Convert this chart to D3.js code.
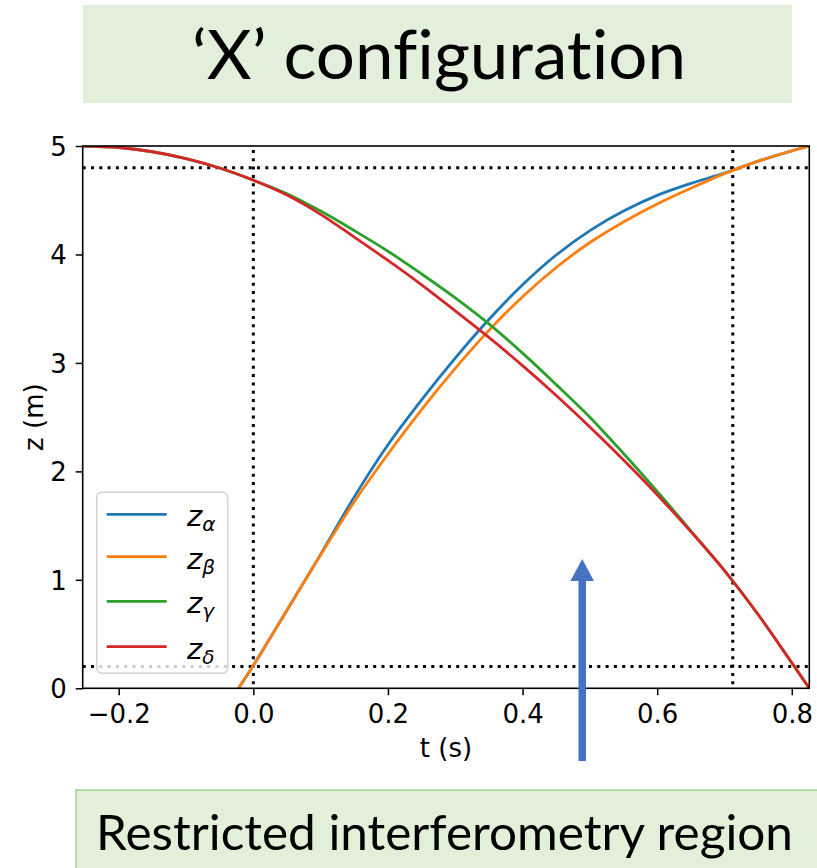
<!DOCTYPE html>
<html>
<head>
<meta charset="utf-8">
<script src="https://cdn.jsdelivr.net/npm/d3@7"></script>
<style>
  html, body { margin: 0; padding: 0; background: #ffffff; }
  svg { display: block; }
  .nolig { font-variant-ligatures: none; font-feature-settings: "liga" 0, "clig" 0; }
</style>
</head>
<body>
<svg id="chart" width="817" height="868"></svg>
<script>
// ---------------- data ----------------
const titleText = "\u2018X\u2019 configuration";
const bottomText = "Restricted interferometry region";
const xLabel = "t (s)";
const yLabel = "z (m)";
const xTicks = [-0.2, 0.0, 0.2, 0.4, 0.6, 0.8];
const yTicks = [0, 1, 2, 3, 4, 5];
const xDomain = [-0.2535, 0.826];
const yDomain = [0, 5];
const hLines = [4.8, 0.2];
const vLines = [0.0, 0.7123];

const seriesNames = ["\u03b1", "\u03b2", "\u03b3", "\u03b4"];
const seriesColors = ["#1f77b4", "#ff7f0e", "#2ca02c", "#d62728"];

// rising pair (alpha, beta)
const tRise = [-0.022, 0.0, 0.05, 0.1, 0.15, 0.2, 0.25, 0.3, 0.35, 0.4, 0.45, 0.5, 0.55, 0.6, 0.65, 0.7, 0.75, 0.8, 0.826];
const zAlpha = [0.0, 0.21, 0.72, 1.235, 1.765, 2.245, 2.66, 3.045, 3.40, 3.72, 3.995, 4.22, 4.40, 4.545, 4.655, 4.75, 4.86, 4.955, 5.0];
const zBeta  = [0.0, 0.21, 0.72, 1.23, 1.72, 2.16, 2.57, 2.95, 3.30, 3.61, 3.88, 4.11, 4.30, 4.465, 4.61, 4.745, 4.86, 4.955, 5.0];

// falling pair (gamma, delta)
const tFall = [-0.2535, -0.2, -0.15, -0.1, -0.05, 0.0, 0.05, 0.1, 0.15, 0.2, 0.25, 0.3, 0.35, 0.4, 0.45, 0.5, 0.55, 0.6, 0.65, 0.7, 0.75, 0.8, 0.826];
const zGamma = [5.0, 4.986, 4.947, 4.884, 4.797, 4.685, 4.56, 4.40, 4.22, 4.03, 3.82, 3.60, 3.36, 3.09, 2.80, 2.50, 2.165, 1.815, 1.452, 1.085, 0.68, 0.235, 0.0];
const zDelta = [5.0, 4.986, 4.947, 4.884, 4.797, 4.685, 4.548, 4.37, 4.16, 3.945, 3.72, 3.48, 3.235, 2.975, 2.70, 2.41, 2.105, 1.785, 1.445, 1.085, 0.68, 0.235, 0.0];

// ---------------- drawing ----------------
const svg = d3.select("#chart");
const font = "'DejaVu Sans', sans-serif";

// title box
svg.append("rect").attr("x", 83).attr("y", 5).attr("width", 709).attr("height", 98)
  .attr("fill", "#e2efda");
svg.append("text").attr("class", "nolig").attr("x", 439).attr("y", 79).attr("text-anchor", "middle")
  .attr("font-family", "Lato, 'Open Sans', sans-serif").attr("font-size", 68)
  .attr("textLength", 494).attr("lengthAdjust", "spacingAndGlyphs")
  .attr("fill", "#000").text(titleText);

const plot = { left: 82.7, right: 809.3, top: 146, bottom: 688.3 };
const x = d3.scaleLinear().domain(xDomain).range([plot.left, plot.right]);
const y = d3.scaleLinear().domain(yDomain).range([plot.bottom, plot.top]);

svg.append("defs").append("clipPath").attr("id", "clip")
  .append("rect").attr("x", plot.left).attr("y", plot.top)
  .attr("width", plot.right - plot.left).attr("height", plot.bottom - plot.top);

const g = svg.append("g");
const clipped = g.append("g").attr("clip-path", "url(#clip)");

// dotted reference lines
const dotted = { stroke: "#000", width: 3, dash: "3,5.3" };
hLines.forEach(v => {
  clipped.append("line").attr("x1", plot.left).attr("x2", plot.right)
    .attr("y1", y(v)).attr("y2", y(v))
    .attr("stroke", dotted.stroke).attr("stroke-width", dotted.width)
    .attr("stroke-dasharray", dotted.dash);
});
vLines.forEach(v => {
  clipped.append("line").attr("x1", x(v)).attr("x2", x(v))
    .attr("y1", plot.top + 4).attr("y2", plot.bottom)
    .attr("stroke", dotted.stroke).attr("stroke-width", dotted.width)
    .attr("stroke-dasharray", dotted.dash);
});

// curves
const series = [
  { t: tRise, z: zAlpha },
  { t: tRise, z: zBeta },
  { t: tFall, z: zGamma },
  { t: tFall, z: zDelta }
];
const line = d3.line().x(d => x(d[0])).y(d => y(d[1])).curve(d3.curveCatmullRom.alpha(0.5));
series.forEach((s, i) => {
  const pts = s.t.map((tv, j) => [tv, s.z[j]]);
  clipped.append("path").datum(pts).attr("d", line)
    .attr("fill", "none").attr("stroke", seriesColors[i])
    .attr("stroke-width", 2.8).attr("stroke-linejoin", "round").attr("stroke-linecap", "butt");
});

// axes
const xAxis = d3.axisBottom(x).tickValues(xTicks).tickSize(7).tickFormat(d3.format(".1f"));
const yAxis = d3.axisLeft(y).tickValues(yTicks).tickSize(7).tickFormat(d3.format("d"));

const gx = g.append("g").attr("transform", `translate(0,${plot.bottom})`).call(xAxis);
gx.select(".domain").remove();
gx.selectAll(".tick line").attr("stroke", "#000").attr("stroke-width", 1.5);
gx.selectAll(".tick text").attr("y", 35).attr("dy", null)
  .attr("font-family", font).attr("font-size", 26).attr("fill", "#000");

const gy = g.append("g").attr("transform", `translate(${plot.left},0)`).call(yAxis);
gy.select(".domain").remove();
gy.selectAll(".tick line").attr("stroke", "#000").attr("stroke-width", 1.5);
gy.selectAll(".tick text").attr("x", -16).attr("dy", "0.36em")
  .attr("font-family", font).attr("font-size", 26).attr("fill", "#000");

// frame
g.append("rect").attr("x", plot.left).attr("y", plot.top)
  .attr("width", plot.right - plot.left).attr("height", plot.bottom - plot.top)
  .attr("fill", "none").attr("stroke", "#000").attr("stroke-width", 1.6);

// axis labels
g.append("text").attr("x", (plot.left + plot.right) / 2).attr("y", 757)
  .attr("text-anchor", "middle").attr("font-family", font).attr("font-size", 26)
  .attr("fill", "#000").text(xLabel);
g.append("text").attr("transform", `translate(43,${(plot.top + plot.bottom) / 2}) rotate(-90)`)
  .attr("text-anchor", "middle").attr("font-family", font).attr("font-size", 26)
  .attr("fill", "#000").text(yLabel);

// legend
const lg = g.append("g");
lg.append("rect").attr("x", 96.7).attr("y", 492.3).attr("width", 131).attr("height", 181)
  .attr("rx", 5).attr("fill", "#ffffff").attr("fill-opacity", 0.8)
  .attr("stroke", "#d4d4d4").attr("stroke-width", 1.5);
const legendY = [514.3, 556.7, 601.3, 646.7];
seriesNames.forEach((nm, i) => {
  lg.append("line").attr("x1", 106.7).attr("x2", 166.7)
    .attr("y1", legendY[i]).attr("y2", legendY[i])
    .attr("stroke", seriesColors[i]).attr("stroke-width", 2.8);
  const tx = lg.append("text").attr("x", 187).attr("y", legendY[i] + 12)
    .attr("font-family", font).attr("font-style", "italic").attr("fill", "#000");
  tx.append("tspan").attr("font-size", 29).text("z");
  tx.append("tspan").attr("font-size", 20).attr("dy", 5).text(nm);
});

// arrow
svg.append("rect").attr("x", 578.5).attr("y", 578).attr("width", 7.5).attr("height", 183)
  .attr("fill", "#4472c4");
svg.append("path").attr("d", "M582.2,559 L594,581 L570.4,581 Z").attr("fill", "#4472c4");

// bottom box
svg.append("rect").attr("x", 76).attr("y", 790).attr("width", 760).attr("height", 100)
  .attr("fill", "#e2f0d9").attr("stroke", "#a9d18e").attr("stroke-width", 1.5);
svg.append("text").attr("class", "nolig").attr("x", 96).attr("y", 850)
  .attr("font-family", "Lato, 'Open Sans', sans-serif").attr("font-size", 48)
  .attr("textLength", 697).attr("lengthAdjust", "spacingAndGlyphs")
  .attr("fill", "#000").text(bottomText);
</script>
</body>
</html>
